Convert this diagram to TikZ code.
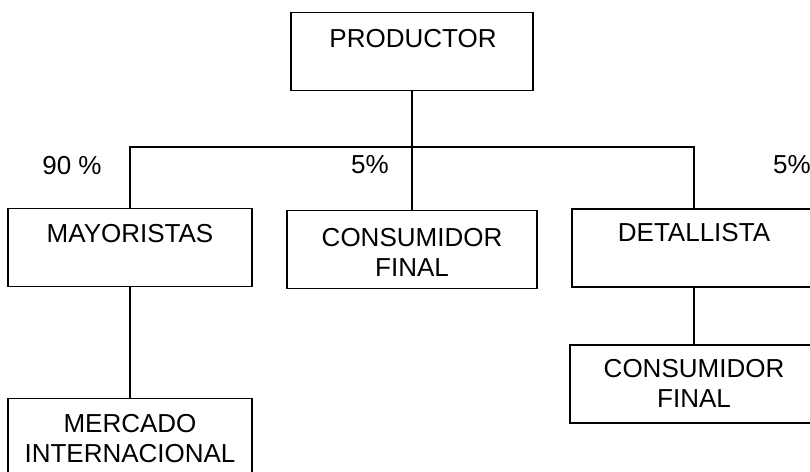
\documentclass[tikz,border=0pt]{standalone}
\usepackage{fontspec}
\setmainfont{Liberation Sans}
\usetikzlibrary{positioning,calc}

\begin{document}
\begin{tikzpicture}[x=1pt,y=-1pt,
	caja/.style={rectangle,draw,line width=1.6pt,inner sep=0pt},
	txt/.style={align=center,inner sep=0pt,font=\fontsize{26}{30}\selectfont}]
	\useasboundingbox (0,0) rectangle (810,471);
	% cajas
	\foreach \n/\x/\y/\w in {prod/412/51.5/242, may/130/247.5/244, cfin/412/249.5/250, det/694/248/244, cfin2/694/384/248, merc/130/437.5/244}
		\node[caja,minimum width=\w,minimum height=78] (\n) at (\x,\y) {};
	\coordinate (bus) at (412,147);
	\draw[line width=1.6pt] (may.north) |- (bus) -| (det.north);
	\draw[line width=1.6pt] (prod.south) -- (cfin.north);
	\draw[line width=1.6pt] (may.south) -- (merc.north);
	\draw[line width=1.6pt] (det.south) -- (cfin2.north);
	% textos
	\node[txt] (tprod) at (413,38.7) {PRODUCTOR};
	\node[txt] (tmay) at (130,233.7) {MAYORISTAS};
	\node[txt] (tcfin) at (412,252.7) {CONSUMIDOR\\FINAL};
	\node[txt] (tdet) at (694,232.7) {DETALLISTA};
	\node[txt] (tcfin2) at (694,383.7) {CONSUMIDOR\\FINAL};
	\node[txt] (tmerc) at (130,438.7) {MERCADO\\INTERNACIONAL};
	% porcentajes
	\node[txt] (p90) at (72,165.7) {90 \%};
	\node[txt] (p5a) at (370,164.7) {5\%};
	\node[txt] (p5b) at (792,164.7) {5\%};
\end{tikzpicture}
\end{document}
